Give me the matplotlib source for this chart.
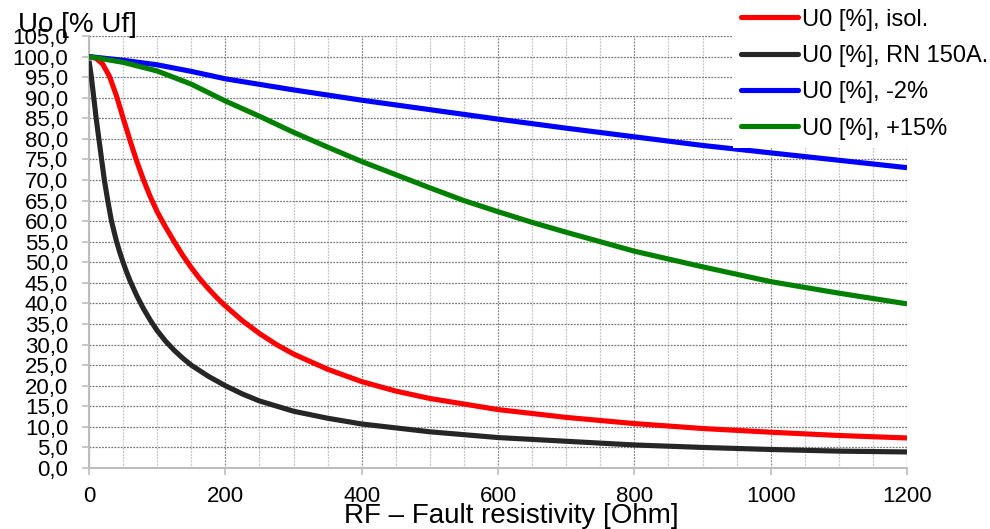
import matplotlib
matplotlib.use("Agg")
import matplotlib.pyplot as plt
from matplotlib.ticker import FixedLocator, FuncFormatter

plt.rcParams['font.family'] = ['Liberation Sans', 'DejaVu Sans']

# --- data ---
r_isol = [0, 10, 20, 30, 40, 50, 60, 70, 80, 90, 100, 112.5, 125, 137.5, 150, 162.5,
          175, 187.5, 200, 225, 250, 275, 300, 350, 400, 450, 500, 600, 700, 800,
          900, 1000, 1100, 1200]
u_isol = [100, 99.6, 98.2, 95.2, 90.6, 85.1, 79.7, 74.6, 70.0, 65.9, 62.3, 58.5,
          55.0, 51.7, 48.7, 46.0, 43.6, 41.4, 39.4, 35.8, 32.7, 30.0, 27.7, 24.0,
          21.0, 18.7, 16.9, 14.2, 12.3, 10.8, 9.6, 8.7, 7.9, 7.3]

r_rn = [0, 3.5, 7, 10.5, 14.5, 18.5, 22.5, 27.5, 33, 40, 45, 50, 55, 60, 70, 80, 90,
        100, 112.5, 125, 137.5, 150, 175, 200, 225, 250, 300, 350, 400, 500, 600,
        700, 800, 900, 1000, 1100, 1200]
u_rn = [99.0, 95.0, 90.0, 85.0, 80.0, 75.0, 70.0, 65.0, 60.0, 55.3, 52.5, 50.0,
        47.7, 45.6, 41.9, 38.7, 35.9, 33.4, 30.8, 28.6, 26.7, 25.0, 22.3, 20.0,
        18.0, 16.3, 13.8, 12.1, 10.7, 8.8, 7.4, 6.5, 5.6, 5.0, 4.5, 4.1, 3.9]

r_m2 = [0, 50, 100, 150, 200, 300, 400, 500, 600, 700, 800, 900, 1000, 1100, 1200]
u_m2 = [100, 99.1, 98.0, 96.4, 94.6, 91.9, 89.4, 87.1, 84.8, 82.6, 80.5, 78.4,
        76.6, 74.8, 73.0]

r_p15 = [0, 50, 100, 150, 200, 250, 300, 350, 400, 450, 500, 550, 600, 650, 700,
         800, 900, 1000, 1100, 1200]
u_p15 = [100, 98.6, 96.5, 93.3, 89.2, 85.5, 81.6, 78.0, 74.5, 71.3, 68.1, 65.0,
         62.3, 59.7, 57.3, 52.7, 48.9, 45.3, 42.5, 39.9]

series_labels = ["U0 [%], isol.", "U0 [%], RN 150A.", "U0 [%], -2%", "U0 [%], +15%"]
series_colors = ["#ff0000", "#262626", "#0000ff", "#008000"]

x_ticks = [0, 200, 400, 600, 800, 1000, 1200]
x_minor = list(range(0, 1201, 50))
y_ticks = list(range(0, 106, 5))

y_title = "Uo [% Uf]"
x_title = "RF \u2013 Fault resistivity [Ohm]"

# --- figure ---
W, H = 990, 529
fig = plt.figure(figsize=(W / 100, H / 100), dpi=100)
L, R_, T, B = 89, 907, 36, 468
ax = fig.add_axes([L / W, 1 - B / H, (R_ - L) / W, (B - T) / H])

for (xs, ys), lab, col in zip([(r_isol, u_isol), (r_rn, u_rn), (r_m2, u_m2), (r_p15, u_p15)],
                              series_labels, series_colors):
    ax.plot(xs, ys, color=col, lw=3.7, label=lab, solid_capstyle='butt',
            solid_joinstyle='round', zorder=3)

ax.set_xlim(0, 1200)
ax.set_ylim(0, 105)
ax.xaxis.set_major_locator(FixedLocator(x_ticks))
ax.xaxis.set_minor_locator(FixedLocator(x_minor))
ax.yaxis.set_major_locator(FixedLocator(y_ticks))
ax.yaxis.set_major_formatter(FuncFormatter(lambda v, p: f"{v:.1f}".replace('.', ',')))
ax.xaxis.set_major_formatter(FuncFormatter(lambda v, p: f"{int(v)}"))

ax.grid(which='minor', axis='x', color='#c4c4c4', linestyle=(0, (1.5, 1)), lw=0.9, zorder=1)
ax.grid(which='major', axis='x', color='#8a8a8a', linestyle=(0, (1.5, 1)), lw=0.9, zorder=1)
ax.grid(which='major', axis='y', color='#7a7a7a', linestyle=(0, (1.5, 1)), lw=0.9, zorder=1)
ax.set_axisbelow(True)

for s in ['top', 'right']:
    ax.spines[s].set_visible(False)
for s in ['left', 'bottom']:
    ax.spines[s].set_color('#bdbdbd')
    ax.spines[s].set_linewidth(1.5)

ax.tick_params(axis='x', which='major', direction='out', length=5, width=1.2,
               color='#bdbdbd', labelsize=16, pad=8)
ax.tick_params(axis='x', which='minor', length=0)
ax.tick_params(axis='y', which='major', direction='out', length=5, width=1.2,
               color='#bdbdbd', labelsize=16, pad=10)

fig.text(18 / W, 1 - 32 / H, y_title, fontsize=20, ha='left', va='baseline')
fig.text(511 / W, 1 - 523 / H, x_title, fontsize=20, ha='center', va='baseline')

leg = fig.legend(loc='lower left', bbox_to_anchor=(733 / W, 1 - 148 / H),
                 fontsize=17, frameon=True, facecolor='white', edgecolor='none',
                 framealpha=1, fancybox=False, borderpad=0.35, labelspacing=0.61,
                 handlelength=2.4, handletextpad=0.17, borderaxespad=0)
for h in leg.get_lines():
    h.set_linewidth(3.7)
    h.set_solid_capstyle('round')

fig.savefig("out.png", dpi=100)
